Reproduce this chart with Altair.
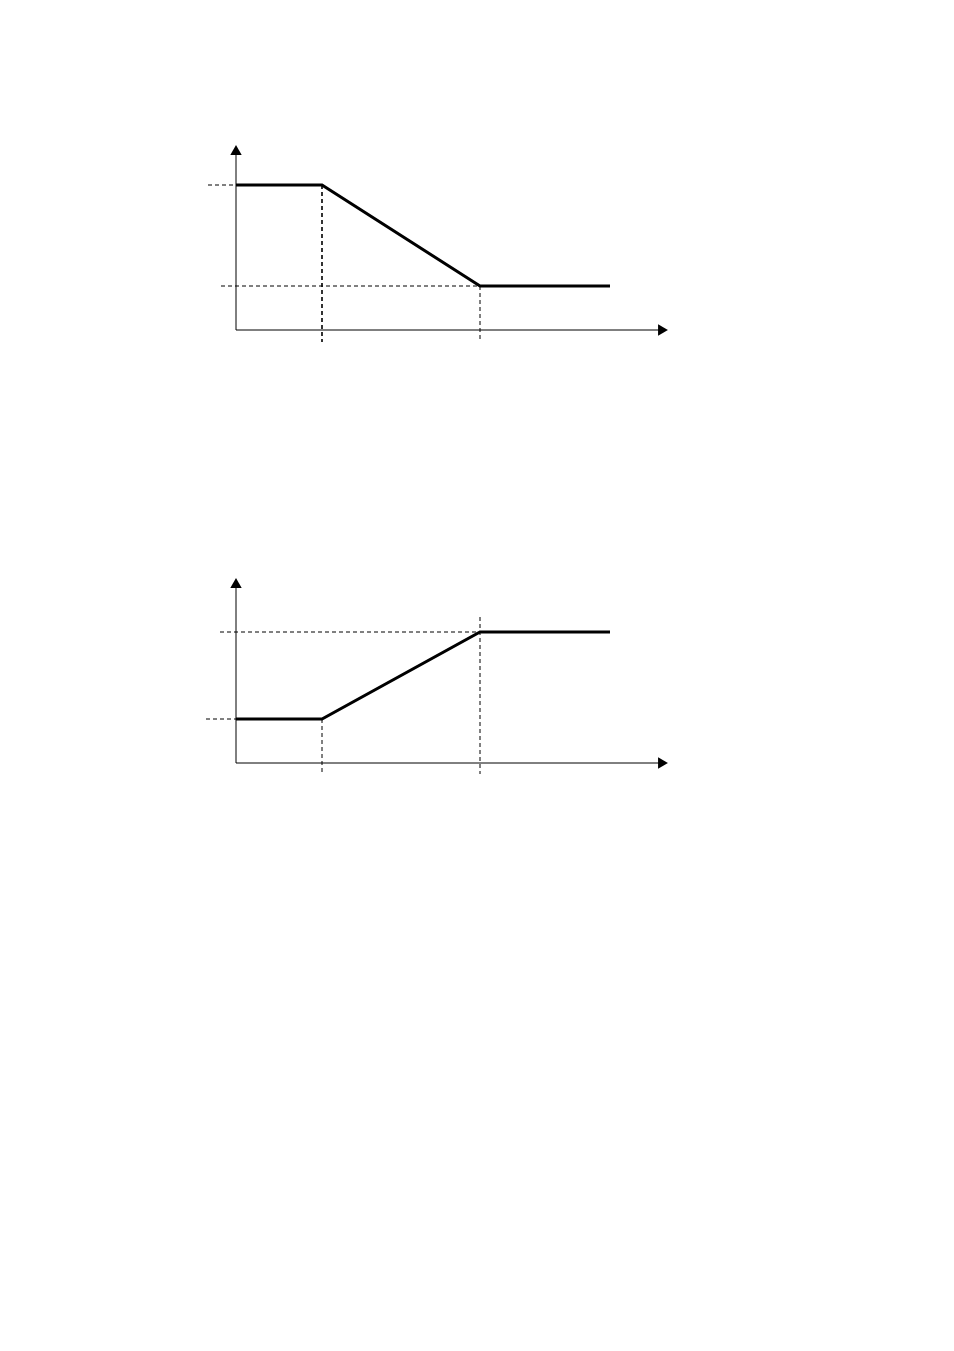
import altair as alt
import pandas as pd

# ---- data (units = px-like schematic coordinates, origin at axes corner) ----
top_x = [0, 86, 244, 374]
top_y = [145, 145, 44, 44]
bot_x = [0, 86, 244, 374]
bot_y = [44, 44, 131, 131]

# guide (dashed) segments: x, x2, y, y2, width
top_gx = [-28, -15, 86, 244]
top_gx2 = [86, 244, 86, 244]
top_gy = [145, 44, 145, 44]
top_gy2 = [145, 44, -12, -12]
top_gw = [1, 1, 1.6, 1]

bot_gx = [-30, -16, 86, 244]
bot_gx2 = [86, 244, 86, 244]
bot_gy = [44, 131, 44, 146]
bot_gy2 = [44, 131, -11, -11]
bot_gw = [1, 1, 1, 1]

axis_len_x = 427
axis_len_y = 181
arrow_x = [427, 0]
arrow_y = [0, 180]

XDOM = [-40, 440]
YDOM = [-20, 200]


def panel(xs, ys, gx, gx2, gy, gy2, gw):
    xs_scale = alt.Scale(domain=XDOM, nice=False, zero=False)
    ys_scale = alt.Scale(domain=YDOM, nice=False, zero=False)

    guides = pd.DataFrame({"x": gx, "x2": gx2, "y": gy, "y2": gy2, "w": gw})
    g = alt.Chart(guides).mark_rule(color="black", strokeDash=[4, 3]).encode(
        x=alt.X("x:Q", scale=xs_scale, axis=None),
        x2="x2:Q",
        y=alt.Y("y:Q", scale=ys_scale, axis=None),
        y2="y2:Q",
        strokeWidth=alt.StrokeWidth("w:Q", scale=None),
    )

    axes = pd.DataFrame({"x": [0, 0], "x2": [axis_len_x, 0],
                         "y": [0, 0], "y2": [0, axis_len_y]})
    a = alt.Chart(axes).mark_rule(color="black", strokeWidth=1).encode(
        x=alt.X("x:Q", scale=xs_scale, axis=None),
        x2="x2:Q",
        y=alt.Y("y:Q", scale=ys_scale, axis=None),
        y2="y2:Q",
    )

    arrows = pd.DataFrame({"x": arrow_x, "y": arrow_y,
                           "shape": ["triangle-right", "triangle-up"]})
    ar = alt.Chart(arrows).mark_point(filled=True, color="black", opacity=1, size=130).encode(
        x=alt.X("x:Q", scale=xs_scale, axis=None),
        y=alt.Y("y:Q", scale=ys_scale, axis=None),
        shape=alt.Shape("shape:N", scale=None),
    )

    line_df = pd.DataFrame({"x": xs, "y": ys, "o": list(range(len(xs)))})
    ln = alt.Chart(line_df).mark_line(color="black", strokeWidth=3, strokeJoin="miter").encode(
        x=alt.X("x:Q", scale=xs_scale, axis=None),
        y=alt.Y("y:Q", scale=ys_scale, axis=None),
        order="o:Q",
    )
    return alt.layer(g, a, ln, ar).properties(width=480, height=220)


top = panel(top_x, top_y, top_gx, top_gx2, top_gy, top_gy2, top_gw)
bottom = panel(bot_x, bot_y, bot_gx, bot_gx2, bot_gy, bot_gy2, bot_gw)

chart = alt.vconcat(top, bottom, spacing=213).properties(
    padding={"left": 188, "top": 122, "right": 10, "bottom": 10},
    background="white",
).configure_view(stroke=None)

chart.save("out.html", embed_options={"renderer": "svg", "actions": False})
